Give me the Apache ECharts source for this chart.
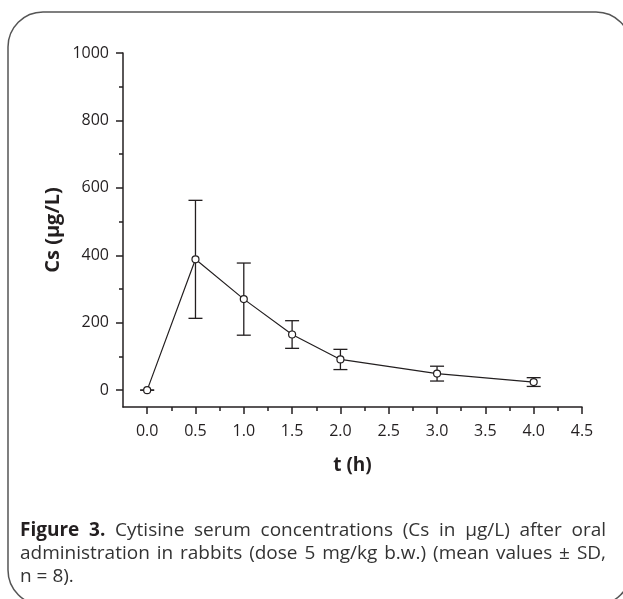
<!DOCTYPE html>
<html>
<head>
<meta charset="utf-8">
<script src="https://cdn.jsdelivr.net/npm/echarts@6/dist/echarts.min.js"></script>
<style>
  html, body { margin: 0; padding: 0; background: #fff; }
  #chart { width: 623px; height: 599px; }
</style>
</head>
<body>
<div id="chart"></div>
<script>
// time points (h) and serum concentration (µg/L), mean and SD
var times = [0, 0.5, 1.0, 1.5, 2.0, 3.0, 4.0];
var means = [0, 388, 270, 165, 91, 49, 24];
var sds = [0, 175, 107, 41, 30, 22, 13];

var xLabels = [0, 0.5, 1, 1.5, 2, 2.5, 3, 3.5, 4, 4.5];
var xMinor = [0.25, 0.75, 1.25, 1.75, 2.25, 2.75, 3.25, 3.75, 4.25];
var yLabels = [0, 200, 400, 600, 800, 1000];
var yMinor = [100, 300, 500, 700, 900];

// caption: [bold part, normal part, justified?]
var captionLines = [
  ['Figure 3.', 'Cytisine serum concentrations (Cs in µg/L) after oral', true],
  ['', 'administration in rabbits (dose 5 mg/kg b.w.) (mean values ± SD,', true],
  ['', 'n = 8).', false]
];

var font = '"Open Sans", "DejaVu Sans", sans-serif';
var ink = '#231f20';

var chart = echarts.init(document.getElementById('chart'));

var points = times.map(function (t, i) { return [t, means[i]]; });
var bars = times.map(function (t, i) { return [t, means[i] - sds[i], means[i] + sds[i]]; });

function axisX(show, ticks, len) {
  return {
    type: 'value', min: -0.25, max: 4.5,
    position: 'bottom',
    axisLine: { show: show, onZero: false, lineStyle: { color: ink, width: 1.5 } },
    axisTick: { show: true, length: len, customValues: ticks, lineStyle: { color: ink, width: 1.5 } },
    axisLabel: {
      show: show, customValues: xLabels, margin: 16,
      fontFamily: font, fontSize: 16, color: ink,
      formatter: function (v) { return v.toFixed(1); }
    },
    splitLine: { show: false },
    name: show ? 't (h)' : '', nameLocation: 'middle', nameGap: 49, nameMoveOverlap: false,
    nameTextStyle: { fontFamily: font, fontSize: 19, fontWeight: 'bold', color: ink }
  };
}

function axisY(show, ticks, len) {
  return {
    type: 'value', min: -50, max: 1000,
    position: 'left',
    axisLine: { show: show, onZero: false, lineStyle: { color: ink, width: 1.5 } },
    axisTick: { show: true, length: len, customValues: ticks, lineStyle: { color: ink, width: 1.5 } },
    axisLabel: {
      show: show, customValues: yLabels, margin: 14,
      fontFamily: font, fontSize: 16, color: ink,
      formatter: function (v) { return String(v); }
    },
    splitLine: { show: false },
    name: show ? 'Cs (µg/L)' : '', nameLocation: 'middle', nameGap: 60, nameRotate: 90,
    nameMoveOverlap: false,
    nameTextStyle: { fontFamily: font, fontSize: 20, fontWeight: 'bold', color: ink }
  };
}

var graphics = [{
  type: 'rect',
  shape: { x: 8, y: 12, width: 623, height: 593, r: 35 },
  style: { fill: 'none', stroke: '#555', lineWidth: 1.5 },
  z: 0
}];

// justified caption: place words one by one
var capSize = 19, capLeft = 20, capRight = 606, capTop = 521, capStep = 23;
var ctx = document.createElement('canvas').getContext('2d');
function wordWidth(w, bold) {
  ctx.font = (bold ? 'bold ' : '') + capSize + 'px "Open Sans"';
  return ctx.measureText(w).width;
}
captionLines.forEach(function (ln, i) {
  var words = [];
  if (ln[0]) ln[0].split(' ').forEach(function (w) { words.push([w, true]); });
  ln[1].split(' ').forEach(function (w) { words.push([w, false]); });
  var widths = words.map(function (w) { return wordWidth(w[0], w[1]); });
  var total = widths.reduce(function (a, b) { return a + b; }, 0);
  var gap = ln[2] ? (capRight - capLeft - total) / (words.length - 1) : wordWidth(' ', false);
  var x = capLeft;
  words.forEach(function (w, k) {
    graphics.push({
      type: 'text', x: x, y: capTop + i * capStep,
      style: {
        text: w[0], fontFamily: font, fontSize: capSize,
        fontWeight: w[1] ? 'bold' : 'normal', fill: w[1] ? ink : '#333'
      }
    });
    x += widths[k] + gap;
  });
});

chart.setOption({
  animation: false,
  backgroundColor: '#fff',
  grid: { left: 123, right: 41, top: 53, bottom: 192, containLabel: false },
  xAxis: [axisX(true, xLabels, 7), axisX(false, xMinor, 4)],
  yAxis: [axisY(true, yLabels, 7), axisY(false, yMinor, 4)],
  graphic: graphics,
  series: [
    {
      type: 'custom',
      renderItem: function (params, api) {
        var x = api.value(0);
        var lo = api.coord([x, api.value(1)]);
        var hi = api.coord([x, api.value(2)]);
        var w = 7;
        var st = { stroke: ink, lineWidth: 1.3 };
        return {
          type: 'group',
          children: [
            { type: 'line', shape: { x1: lo[0], y1: lo[1], x2: hi[0], y2: hi[1] }, style: st },
            { type: 'line', shape: { x1: lo[0] - w, y1: lo[1], x2: lo[0] + w, y2: lo[1] }, style: st },
            { type: 'line', shape: { x1: hi[0] - w, y1: hi[1], x2: hi[0] + w, y2: hi[1] }, style: st }
          ]
        };
      },
      encode: { x: 0, y: [1, 2] },
      data: bars,
      z: 2
    },
    {
      type: 'line',
      data: points,
      symbol: 'circle',
      symbolSize: 7,
      lineStyle: { color: ink, width: 1.2 },
      itemStyle: { color: '#fff', borderColor: ink, borderWidth: 1.2 },
      z: 3
    }
  ]
});
</script>
</body>
</html>
